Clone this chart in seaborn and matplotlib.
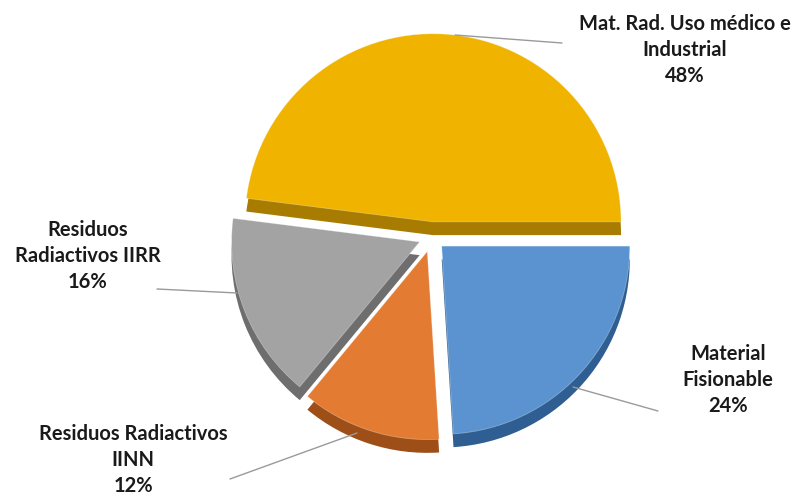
import matplotlib
matplotlib.use("Agg")
import matplotlib.pyplot as plt
import seaborn as sns
import numpy as np

sns.set_theme(style="white")
plt.rcParams['font.family'] = ['Lato', 'DejaVu Sans']

# Data
categories = ["Material\nFisionable", "Residuos Radiactivos\nIINN",
              "Residuos\nRadiactivos IIRR", "Mat. Rad. Uso médico e\nIndustrial"]
values = [24, 12, 16, 48]
colors = ["#5A93CF", "#E37B33", "#A3A3A3", "#F0B400"]
dark_colors = ["#2F5F92", "#9E4F17", "#6E6E6E", "#A77C00"]

W, H = 799, 497
fig = plt.figure(figsize=(W / 100, H / 100), dpi=100)
ax = fig.add_axes([0, 0, 1, 1])

S = 190.0          # px per data unit
CX, CY = 432, 237  # pie centre in px (from top)

def px(x, y):
    return ((x - CX) / S, (CY - y) / S)

explode = [0.07, 0.08, 0.07, 0.08]
# depth (3D side) layer
ax.pie(values, colors=dark_colors, startangle=0, counterclock=False,
       explode=explode, radius=0.99, center=(0.0, -0.07),
       wedgeprops=dict(linewidth=0))
# top layer
ax.pie(values, colors=colors, startangle=0, counterclock=False,
       explode=explode, radius=0.99, center=(0.0, 0.0),
       wedgeprops=dict(linewidth=0.6, edgecolor="#ffffff55"))

ax.set_aspect("equal")
ax.set_xlim(-CX / S, (W - CX) / S)
ax.set_ylim(-(H - CY) / S, CY / S)
ax.axis("off")

# Labels and leader lines
label_pos = [(728, 380), (133, 460), (88, 256), (685, 50)]
lines = [((573, 387), (658, 411)), ((230, 479), (357, 433)),
         ((157, 289), (237, 293)), ((455, 35), (562, 43))]
for cat, v, (lx, ly), (p0, p1) in zip(categories, values, label_pos, lines):
    a = px(*p0); b = px(*p1)
    ax.plot([a[0], b[0]], [a[1], b[1]], color="#9a9a9a", lw=1.0, zorder=1)
    tx, ty = px(lx, ly)
    ax.text(tx, ty, f"{cat}\n{v}%", ha="center", va="center",
            fontsize=14.5, fontweight="bold", color="#1a1a1a",
            linespacing=1.38, zorder=5)

fig.savefig("out.png", dpi=100, facecolor="white")
